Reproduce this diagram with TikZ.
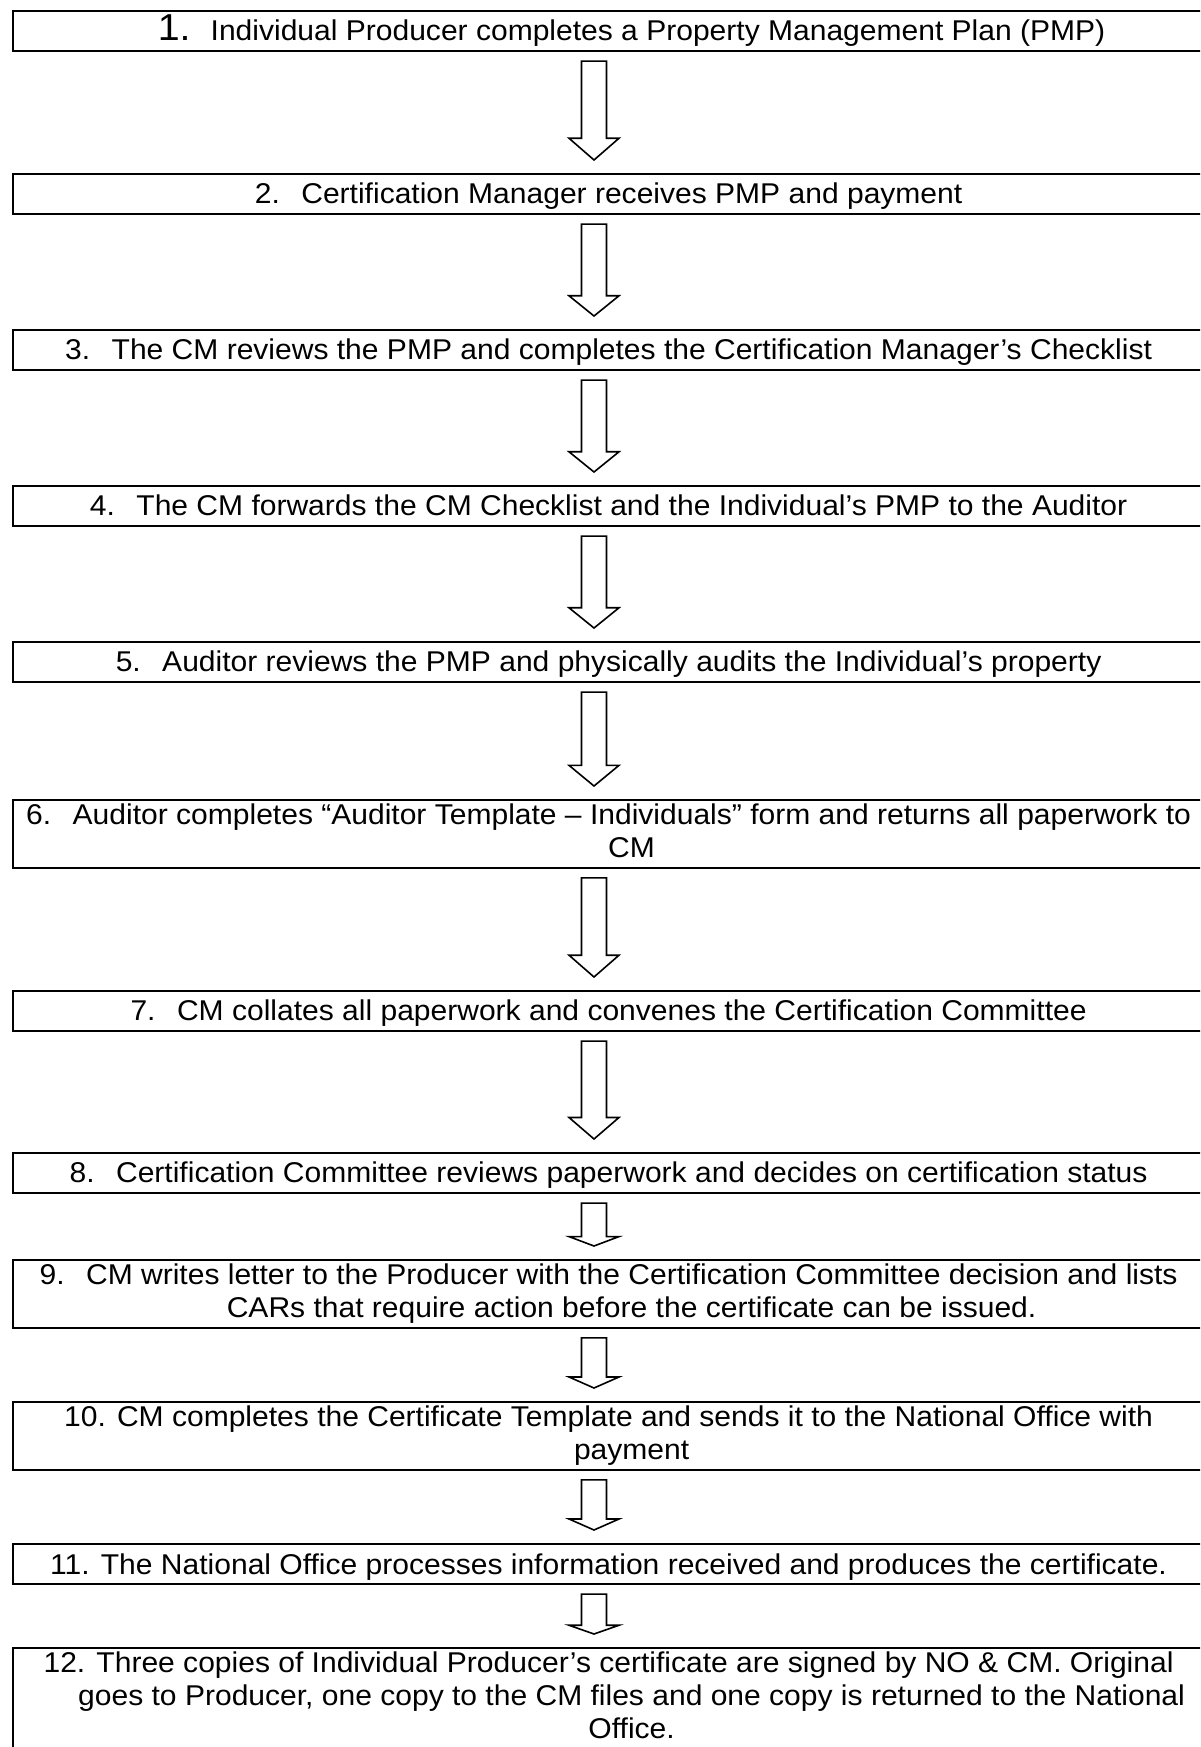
\documentclass[tikz,border=0pt]{standalone}
\usepackage{fontspec}
\setmainfont{Liberation Sans}[FakeStretch=1.05]
\usetikzlibrary{calc}

\newcommand\wstrut{\rule[-0.212em]{0pt}{1.117em}}
\newcommand\numgap{\hspace{0.75em}}
% first line of a numbered step sits a little left of the box centre
\newcommand\firstline[1]{\makebox[1150pt]{#1\hspace*{46pt}}}

\begin{document}
\begin{tikzpicture}[x=1pt, y=-1pt,
  font=\fontsize{28.6}{32.9}\selectfont,
  stepbox/.style={draw, line width=2.2pt, anchor=north west,
    minimum width=1237pt, inner xsep=0pt, inner ysep=4pt, align=center,
    execute at begin node=\wstrut, execute at end node=\wstrut},
  flowarrow/.style={draw, line width=1.6pt, fill=white, line join=miter}]
  \useasboundingbox (0,0) rectangle (1200,1747);
  \clip (0,0) rectangle (1200,1747);
  % the twelve steps
  \node[stepbox] (st1) at (12,10) {{\fontsize{37.5}{40}\selectfont 1.}\hspace{0.7em}Individual Producer completes a Property Management Plan (PMP)};
  \node[stepbox] (st2) at (12,173) {\firstline{2.\numgap Certification Manager receives PMP and payment}};
  \node[stepbox] (st3) at (12,329) {\firstline{3.\numgap The CM reviews the PMP and completes the Certification Manager’s Checklist}};
  \node[stepbox] (st4) at (12,485) {\firstline{4.\numgap The CM forwards the CM Checklist and the Individual’s PMP to the Auditor}};
  \node[stepbox] (st5) at (12,641) {\firstline{5.\numgap Auditor reviews the PMP and physically audits the Individual’s property}};
  \node[stepbox] (st6) at (12,799) {\firstline{6.\numgap Auditor completes “Auditor Template – Individuals” form and returns all paperwork to}\\ CM};
  \node[stepbox] (st7) at (12,990) {\firstline{7.\numgap CM collates all paperwork and convenes the Certification Committee}};
  \node[stepbox] (st8) at (12,1152) {\firstline{8.\numgap Certification Committee reviews paperwork and decides on certification status}};
  \node[stepbox] (st9) at (12,1259) {\firstline{9.\numgap CM writes letter to the Producer with the Certification Committee decision and lists}\\ CARs that require action before the certificate can be issued.};
  \node[stepbox] (st10) at (12,1401) {\firstline{10. CM completes the Certificate Template and sends it to the National Office with}\\ payment};
  \node[stepbox] (st11) at (12,1543) {\firstline{11. The National Office processes information received and produces the certificate.}};
  \node[stepbox] (st12) at (12,1647) {\firstline{12. Three copies of Individual Producer’s certificate are signed by NO \& CM. Original}\\ goes to Producer, one copy to the CM files and one copy is returned to the National\\ Office.};
  % block arrows between the steps
  \foreach \a/\b in {st1/st2,st2/st3,st3/st4,st4/st5,st5/st6,st6/st7,st7/st8,st8/st9,st9/st10,st10/st11,st11/st12}
    \draw[flowarrow] let \p1=(\a.south), \p2=(\b.north),
      \n1={\y1-9pt}, \n2={\y2+13pt}, \n3={\n2+0.22*(\n1-(\n2))} in
      (581.5pt,\n1) -- (606.5pt,\n1) -- (606.5pt,\n3) -- (619pt,\n3) -- (594pt,\n2)
      -- (569pt,\n3) -- (581.5pt,\n3) -- cycle;
\end{tikzpicture}
\end{document}
